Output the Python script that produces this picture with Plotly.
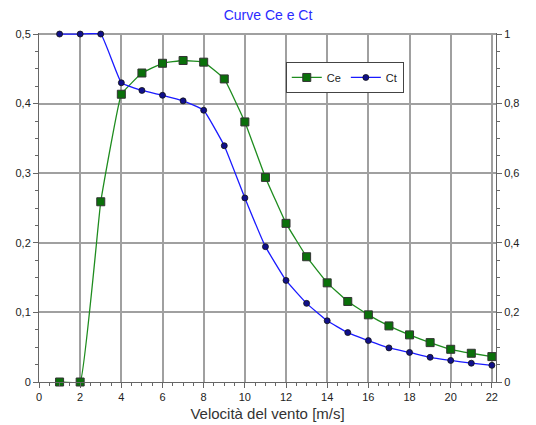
import plotly.graph_objects as go

wind = list(range(1, 23))
ce = [0.0, 0.0, 0.259, 0.4135, 0.444, 0.458, 0.462, 0.4596, 0.4355, 0.3737, 0.294,
      0.228, 0.180, 0.1425, 0.1157, 0.0965, 0.0806, 0.0677, 0.0566, 0.047, 0.0413, 0.0365]
ct = [1.0, 1.0, 1.0, 0.86, 0.838, 0.824, 0.808, 0.781, 0.679, 0.529, 0.389,
      0.292, 0.226, 0.176, 0.142, 0.119, 0.098, 0.085, 0.071, 0.062, 0.054, 0.048]

FONT = "Liberation Sans, Arial, sans-serif"

fig = go.Figure()
fig.add_trace(go.Scatter(
    x=wind, y=ce, name="Ce", mode="lines+markers",
    line=dict(color="#1e8c1e", width=1.3, shape="spline", smoothing=0.25),
    marker=dict(symbol="square", size=8, color="#0a700a", line=dict(color="#333333", width=1)),
    cliponaxis=False,
))
fig.add_trace(go.Scatter(
    x=wind, y=ct, name="Ct", mode="lines+markers", yaxis="y2",
    line=dict(color="#1a1aff", width=1.3, shape="spline", smoothing=0.3),
    marker=dict(symbol="circle", size=6, color="#10108a", line=dict(color="#111111", width=0.8)),
    cliponaxis=False,
))

fig.update_layout(
    width=536, height=425,
    margin=dict(l=39, r=40, t=33, b=43, autoexpand=False),
    paper_bgcolor="white", plot_bgcolor="white",
    separators=",.",
    font=dict(family=FONT, size=11, color="#222222"),
    title=dict(text="Curve Ce e Ct", x=0.5, xanchor="center", y=0.965, yanchor="middle",
               font=dict(family=FONT, size=14, color="#2b2bff")),
    showlegend=True,
    legend=dict(orientation="h", x=0.54, y=0.917, xanchor="left", yanchor="top",
                bgcolor="white", bordercolor="#444444", borderwidth=1,
                font=dict(family=FONT, size=11, color="#222222"),
                itemwidth=30, tracegroupgap=0),
    xaxis=dict(
        range=[0, 22.2], dtick=2, tick0=0, showgrid=True, gridcolor="#a0a0a0", gridwidth=1.5,
        zeroline=False, showline=True, linecolor="#666666", linewidth=1, automargin=False,
        ticks="outside", ticklen=5, tickcolor="#666666",
        minor=dict(dtick=0.5, ticks="outside", ticklen=3, tickcolor="#666666", showgrid=False),
        title=dict(text="Velocità del vento [m/s]", font=dict(family=FONT, size=15, color="#333333"),
                   standoff=6),
        tickfont=dict(family=FONT, size=11, color="#222222"),
    ),
    yaxis=dict(
        range=[0, 0.5015], dtick=0.1, tick0=0, showgrid=True, gridcolor="#a0a0a0", gridwidth=1.5,
        zeroline=False, showline=True, linecolor="#666666", linewidth=1, automargin=False,
        ticks="outside", ticklen=5, tickcolor="#666666",
        minor=dict(dtick=0.025, ticks="outside", ticklen=3, tickcolor="#666666", showgrid=False),
        tickfont=dict(family=FONT, size=11, color="#222222"),
    ),
    yaxis2=dict(
        range=[0, 1.003], dtick=0.2, tick0=0, overlaying="y", side="right", showgrid=False,
        zeroline=False, showline=True, linecolor="#666666", linewidth=1, automargin=False,
        ticks="outside", ticklen=5, tickcolor="#666666",
        minor=dict(dtick=0.05, ticks="outside", ticklen=3, tickcolor="#666666"),
        tickfont=dict(family=FONT, size=11, color="#222222"),
    ),
)

fig.write_html("out.html")
